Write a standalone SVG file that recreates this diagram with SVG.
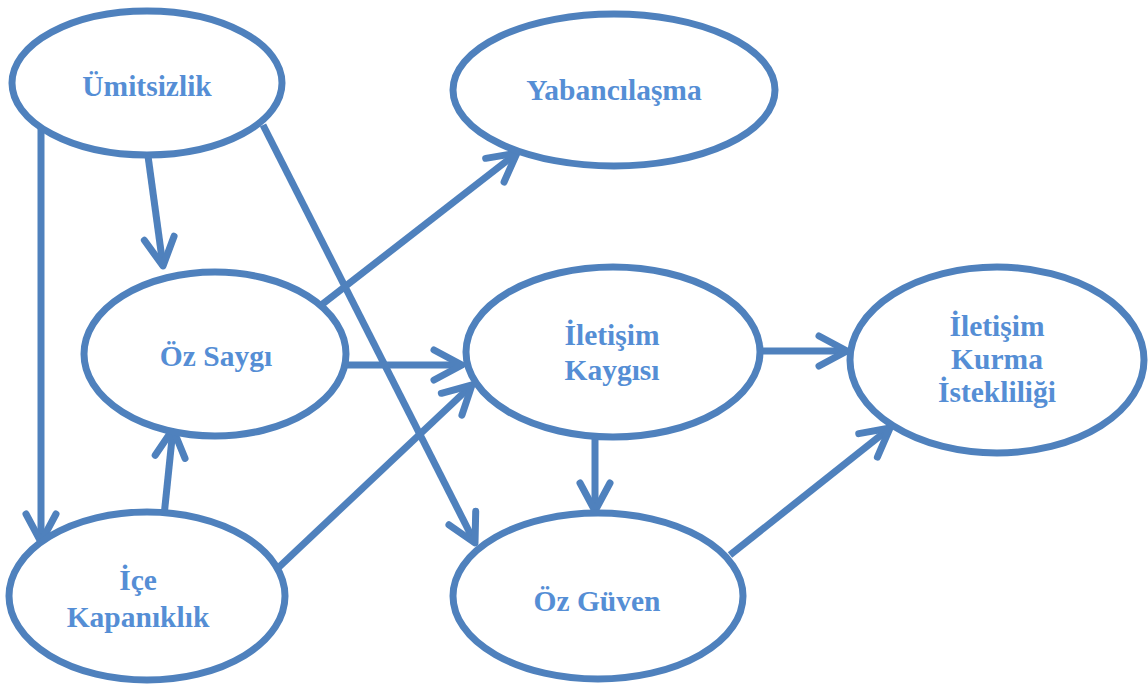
<svg xmlns="http://www.w3.org/2000/svg" width="1148" height="684" viewBox="0 0 1148 684">
<style>
.node ellipse{fill:#fff;stroke:#4F81BD;stroke-width:7}
.node text{font-family:"Liberation Serif","Times New Roman",serif;font-weight:bold;font-size:29.5px;fill:#558ED5;text-anchor:middle}
.conn line{stroke:#4F81BD;stroke-width:7;marker-end:url(#arr)}
</style>
<defs>
<marker id="arr" markerUnits="userSpaceOnUse" markerWidth="40" markerHeight="40" viewBox="-35 -20 40 40" refX="0" refY="0" orient="auto" overflow="visible">
<path d="M-28,-15 L0,0 L-28,15" fill="none" stroke="#4F81BD" stroke-width="7" stroke-linecap="round" stroke-linejoin="round"/>
</marker>
</defs>
<rect width="1148" height="684" fill="#fff"/>
<g class="conn">
<line x1="41" y1="128" x2="41" y2="542"/>
<line x1="148" y1="156" x2="163" y2="266"/>
<line x1="263" y1="125" x2="475" y2="543"/>
<line x1="320" y1="306" x2="517" y2="153"/>
<line x1="346" y1="365" x2="462" y2="365"/>
<line x1="164" y1="516" x2="173" y2="429"/>
<line x1="278" y1="568" x2="472" y2="385"/>
<line x1="760" y1="351" x2="847" y2="351"/>
<line x1="595" y1="437" x2="595" y2="511"/>
<line x1="730" y1="555" x2="890" y2="428"/>
</g>
<g id="umitsizlik" class="node"><ellipse cx="147" cy="83" rx="135" ry="72"/><text x="147" y="96">Ümitsizlik</text></g>
<g id="yabancilasma" class="node"><ellipse cx="614" cy="90" rx="161" ry="76"/><text x="614" y="100">Yabancılaşma</text></g>
<g id="ozsaygi" class="node"><ellipse cx="215" cy="354" rx="131" ry="82"/><text x="216" y="366">Öz Saygı</text></g>
<g id="iletisimkaygisi" class="node"><ellipse cx="613" cy="352" rx="147" ry="85"/><text x="612" y="345">İletişim</text><text x="612" y="380">Kaygısı</text></g>
<g id="istekliligi" class="node"><ellipse cx="997" cy="360" rx="147" ry="93"/><text x="997" y="336">İletişim</text><text x="997" y="369">Kurma</text><text x="997" y="402">İstekliliği</text></g>
<g id="icekapaniklik" class="node"><ellipse cx="147" cy="596" rx="138" ry="84"/><text x="138" y="590">İçe</text><text x="138" y="627">Kapanıklık</text></g>
<g id="ozguven" class="node"><ellipse cx="598" cy="596" rx="145" ry="83"/><text x="597" y="611">Öz Güven</text></g>
</svg>
